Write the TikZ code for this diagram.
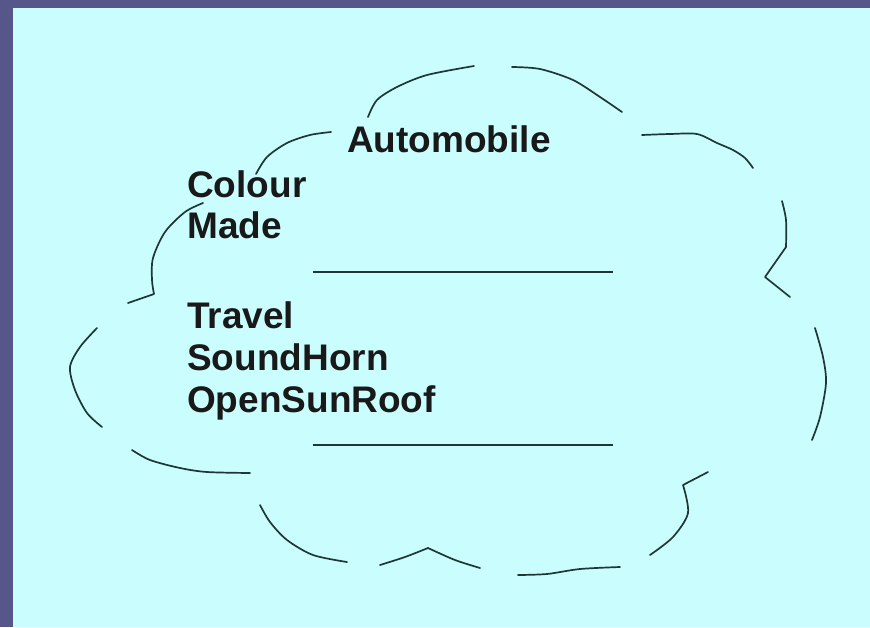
\documentclass[tikz,border=0pt]{standalone}
\usepackage{fontspec}
\setmainfont{Liberation Sans}
\usepackage{tikz}
\usepackage{xcolor}
\usetikzlibrary{positioning}

\definecolor{slide}{HTML}{CAFDFD}
\definecolor{frame}{HTML}{56568A}
\definecolor{ink}{HTML}{1F3636}

\begin{document}
\begin{tikzpicture}[x=1pt, y=-1pt,
    member/.style={anchor=base west, inner sep=0pt, text=black!90,
        font=\fontsize{37}{42}\selectfont\bfseries},
    sketch/.style={ink, line width=1.7pt, line cap=round, line join=round},
    divider/.style={ink, line width=2pt}]
    \useasboundingbox (0,0) rectangle (870,627);
    \fill[slide] (0,0) rectangle (870,627);
    \fill[frame] (0,0) rectangle (870,8);
    \fill[frame] (0,0) rectangle (13,627);

    % class name, attributes and operations
    \node[member] (Auto) at (347,152) {Automobile};
    \node[member] (Col) at (187,197) {Colour};
    \node[member] (Made) at ([yshift=-41pt]Col.base west) {Made};
    \node[member] (Trav) at (187,328) {Travel};
    \node[member] (Horn) at ([yshift=-42pt]Trav.base west) {SoundHorn};
    \node[member] (Roof) at ([yshift=-42pt]Horn.base west) {OpenSunRoof};

    \draw[divider] (313,272) -- (613,272);
    \draw[divider] (313,445) -- (613,445);

    % cloud outline
    \draw[sketch] plot[smooth] coordinates {(368,117) (377,100) (397,87) (427,75) (474,66)};
    \draw[sketch] plot[smooth] coordinates {(512,67) (540,69) (573,80) (600,97) (622,112)};
    \draw[sketch] plot[smooth] coordinates {(331,132) (310,135) (287,143) (267,157) (256,174)};
    \draw[sketch] plot[smooth] coordinates {(203,203) (185,212) (165,232) (153,258) (152,280) (154,294)} -- (128,303);
    \draw[sketch] plot[smooth] coordinates {(97,328) (80,347) (70,367) (75,390) (87,413) (102,427)};
    \draw[sketch] plot[smooth] coordinates {(132,450) (150,460) (180,468) (207,472) (250,473)};
    \draw[sketch] plot[smooth] coordinates {(642,135) (670,134) (697,134) (717,143) (733,150) (745,158) (753,168)};
    \draw[sketch] plot[smooth] coordinates {(782,201) (786,220) (786,247)} -- (765,277) -- (790,297);
    \draw[sketch] plot[smooth] coordinates {(815,328) (823,357) (826,383) (820,417) (812,440)};
    \draw[sketch] plot[smooth] coordinates {(260,505) (270,522) (287,540) (313,555) (347,562)};
    \draw[sketch] plot[smooth] coordinates {(380,565) (405,557) (428,548)};
    \draw[sketch] plot[smooth] coordinates {(428,548) (455,560) (480,568)};
    \draw[sketch] plot[smooth] coordinates {(518,575) (547,574) (580,569) (620,567)};
    \draw[sketch] plot[smooth] coordinates {(650,555) (673,537) (688,513) (683,485)} -- (708,472);
\end{tikzpicture}
\end{document}
